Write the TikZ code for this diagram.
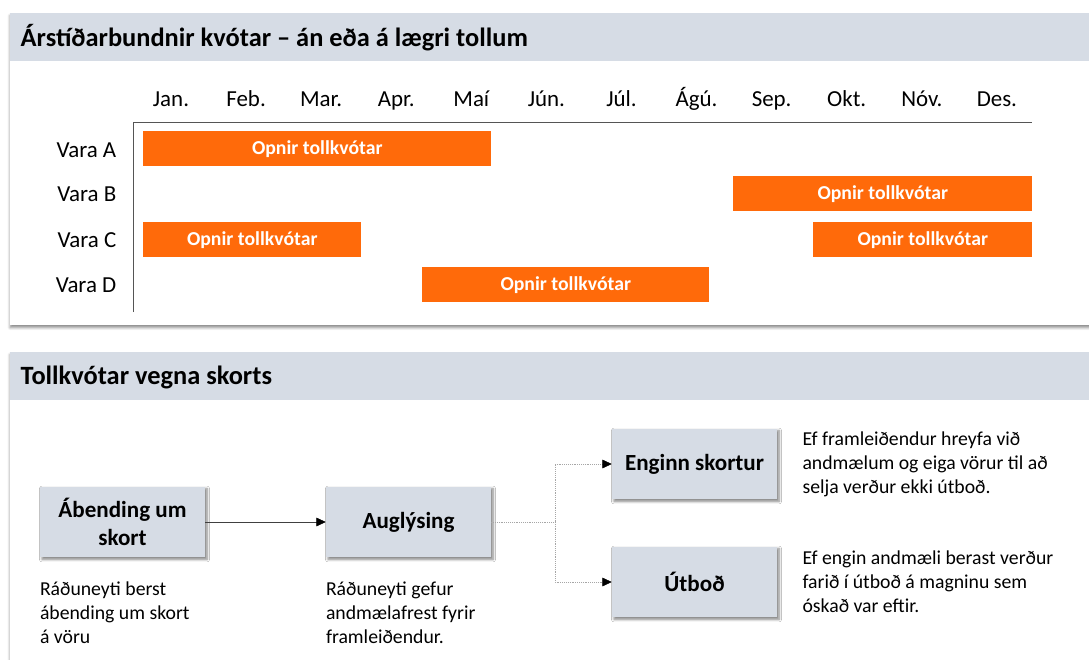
\documentclass[tikz,border=0pt]{standalone}
\usepackage{fontspec}
\setmainfont{Carlito}
\usetikzlibrary{positioning, arrows.meta, shadows.blur}

\definecolor{headgray}{HTML}{D6DCE5}
\definecolor{boxgray}{HTML}{D6DCE5}
\definecolor{kvotaorange}{HTML}{FF6A0A}
\definecolor{axisgray}{HTML}{555555}

\begin{document}
\begin{tikzpicture}[x=0.75pt, y=-0.75pt, panel/.style={
        fill=white,
        blur shadow={shadow xshift=0pt, shadow yshift=-2pt, shadow blur steps=6, shadow opacity=45}
    }, header/.style={
        fill=headgray
    }, title/.style={
        anchor=west,
        font=\fontsize{19.8}{23}\selectfont\bfseries
    }, month/.style={
        text height=1.55ex,
        text depth=0.35ex,
        font=\fontsize{17.2}{20}\selectfont
    }, bar/.style={
        rectangle,
        fill=kvotaorange,
        text=white,
        font=\fontsize{14.8}{17}\selectfont\bfseries,
        minimum height=26.25pt,
        inner sep=0pt,
        anchor=north west
    }, stepbox/.style={
        rectangle,
        fill=boxgray,
        minimum width=123.75pt,
        minimum height=53pt,
        align=center,
        font=\fontsize{17.3}{21}\selectfont\bfseries,
        blur shadow={shadow xshift=1.5pt, shadow yshift=-1.5pt, shadow blur steps=5, shadow opacity=50}
    }, desc/.style={
        align=left,
        inner sep=0pt,
        font=\fontsize{14.8}{18}\selectfont
    }, arrow/.style={
        thin, draw=black!75, -{Triangle[length=7pt, width=6.5pt, color=black]}
    }, dotline/.style={
        thin, draw=black!35, densely dotted
    }]
    \useasboundingbox (0,0) rectangle (1089,660);

    % top panel: seasonal quotas
    \path[panel] (10,13) rectangle (1100,325);
    \path[header] (10,13) rectangle (1100,61);
    \node (title1) [title] at (16,38) {Árstíðarbundnir kvótar – án eða á lægri tollum};

    \foreach \m [count=\i from 0] in {Jan.,Feb.,Mar.,Apr.,Maí,Jún.,Júl.,Ágú.,Sep.,Okt.,Nóv.,Des.}
        \node (m\i) [month] at (171+75.08*\i, 103) {\m};
    \foreach \v/\y in {A/154,B/198,C/244,D/289}
        \node (vara\v) [month, anchor=east] at (121,\y) {Vara \v};

    \coordinate (origin) at (133,122);
    \draw [axisgray, thin] (133,312) -- (origin) -- (1032,122);

    \node (barA) [bar, minimum width=261pt] at (143,131) {Opnir tollkvótar};
    \node (barB) [bar, minimum width=224.25pt] at (733,176) {Opnir tollkvótar};
    \node (barC1) [bar, minimum width=163.5pt] at (143,222) {Opnir tollkvótar};
    \node (barC2) [bar, minimum width=164.25pt] at (813,222) {Opnir tollkvótar};
    \node (barD) [bar, minimum width=215.25pt] at (422,267) {Opnir tollkvótar};

    % bottom panel: quotas because of shortage
    \path[panel] (10,352) rectangle (1100,700);
    \path[header] (10,352) rectangle (1100,400);
    \node (title2) [title] at (16,377) {Tollkvótar vegna skorts};

    \node (abending) [stepbox] at (122.5,522) {Ábending um\\skort};
    \node (auglysing) [stepbox] at (408.5,522) {Auglýsing};
    \node (enginn) [stepbox] at (694.5,464) {Enginn skortur};
    \node (utbod) [stepbox] at (694.5,582) {Útboð};
    \coordinate (fork) at (555,522);

    \node (abendtxt) [desc, anchor=north west] at ([yshift=-18pt]abending.south west) {Ráðuneyti berst\\ábending um skort\\á vöru};
    \node (augltxt) [desc, anchor=north west] at ([yshift=-18pt]auglysing.south west) {Ráðuneyti gefur\\andmælafrest fyrir\\framleiðendur.};
    \node (enginntxt) [desc, right=18.75pt of enginn.east, anchor=west] {Ef framleiðendur hreyfa við\\andmælum og eiga vörur til að\\selja verður ekki útboð.};
    \node (utbodtxt) [desc, right=18.75pt of utbod.east, anchor=west] {Ef engin andmæli berast verður\\farið í útboð á magninu sem\\óskað var eftir.};

    \draw [arrow] (abending) -- (auglysing);
    \draw [dotline] (auglysing) -- (fork);
    \draw [dotline, arrow, draw=black!35] (fork) |- (enginn);
    \draw [dotline, arrow, draw=black!35] (fork) |- (utbod);

\end{tikzpicture}
\end{document}
